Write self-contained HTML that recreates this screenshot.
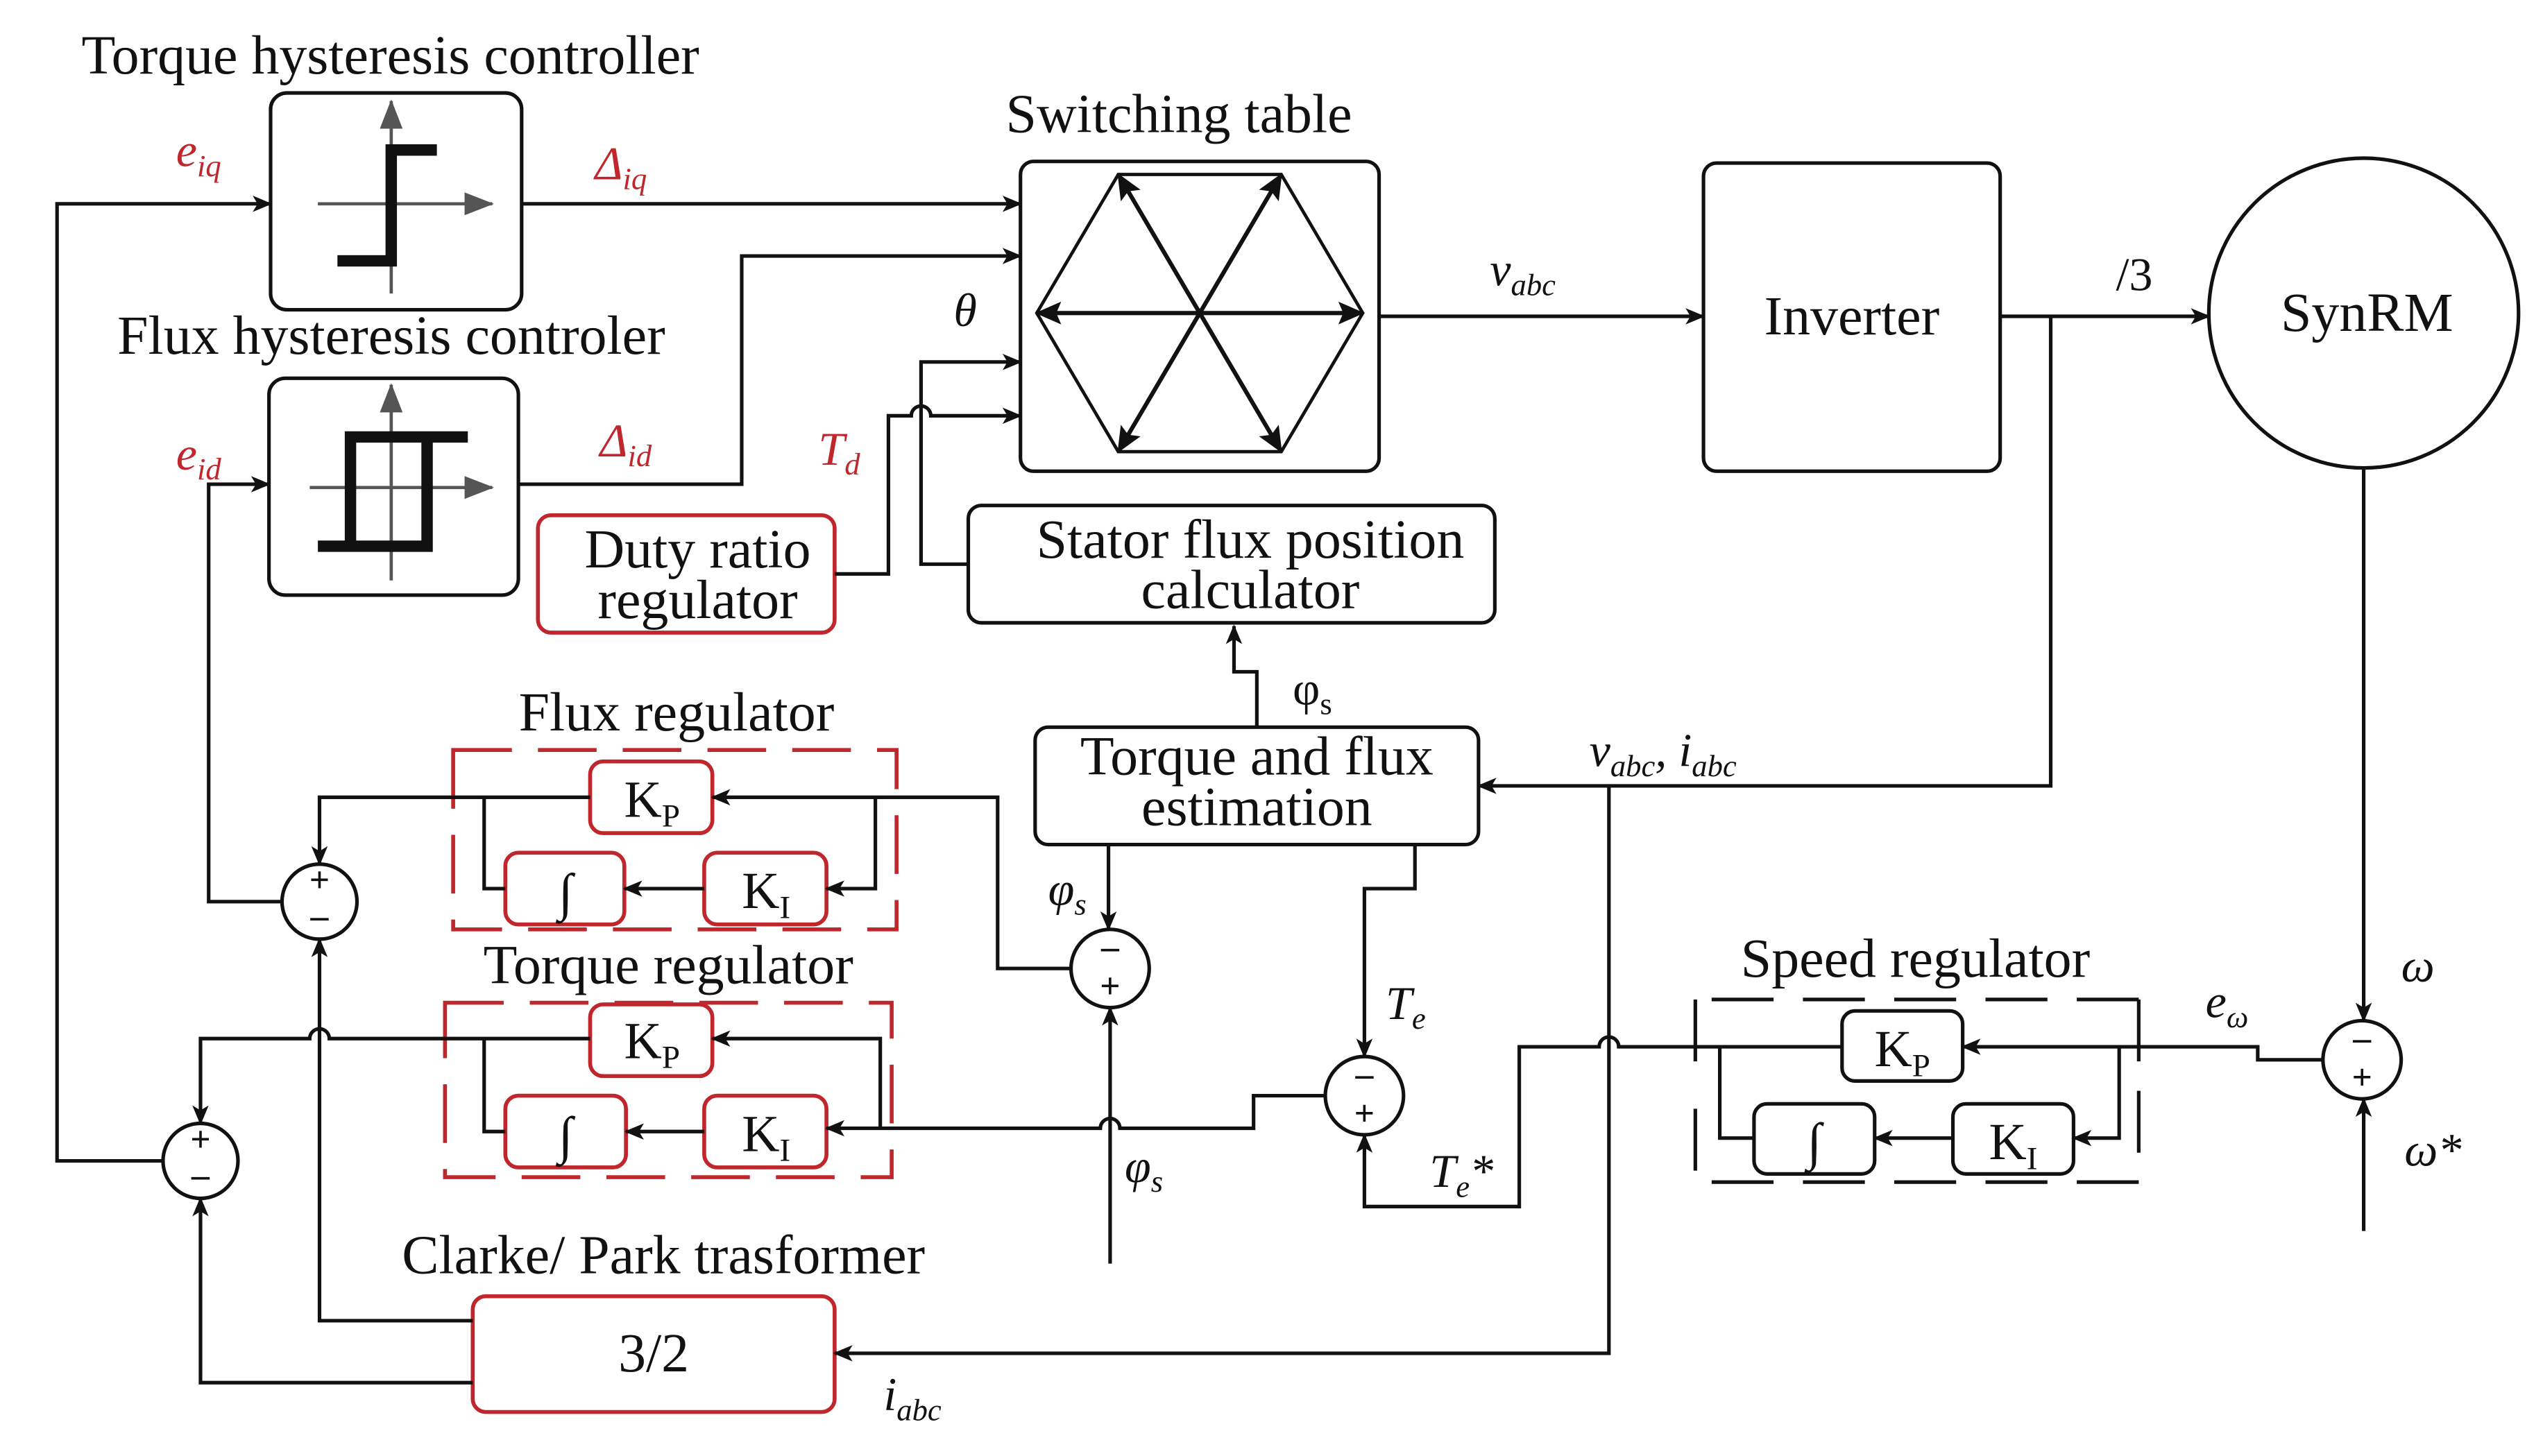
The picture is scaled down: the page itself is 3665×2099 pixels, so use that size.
<!DOCTYPE html>
<html><head><meta charset="utf-8"><style>
html,body{margin:0;padding:0;background:#fff;}
svg{display:block;}
text{font-family:"Liberation Serif",serif;fill:#111;}
.r{fill:#c0272d;}
</style></head><body>
<svg width="3665" height="2099" viewBox="0 0 1560 893" preserveAspectRatio="none" xmlns="http://www.w3.org/2000/svg">
<defs>
<marker id="a" markerWidth="12" markerHeight="10" refX="11" refY="5" orient="auto" markerUnits="userSpaceOnUse"><path d="M0,0 L12,5 L0,10 L3,5 z" fill="#111"/></marker>
<marker id="g" markerWidth="18" markerHeight="14" refX="17" refY="7" orient="auto" markerUnits="userSpaceOnUse"><path d="M0,0 L18,7 L0,14 z" fill="#555"/></marker>
<marker id="h" markerWidth="16" markerHeight="14" refX="15" refY="7" orient="auto" markerUnits="userSpaceOnUse"><path d="M0,0 L16,7 L0,14 L3,7 z" fill="#111"/></marker>
</defs>
<g fill="none" stroke="#111" stroke-width="2.2">
<rect x="166" y="57" width="154" height="133" rx="10"/>
<rect x="165" y="232" width="153" height="133" rx="10"/>
<rect x="626" y="99" width="220" height="190" rx="8"/>
<rect x="1045" y="100" width="182" height="189" rx="8"/>
<circle cx="1450" cy="192" r="95"/>
<rect x="594" y="310" width="323" height="72" rx="8"/>
<rect x="635" y="446" width="272" height="72" rx="8"/>
<circle cx="196" cy="553" r="23"/>
<circle cx="123" cy="712" r="23"/>
<circle cx="681" cy="594" r="24"/>
<circle cx="837" cy="672" r="24"/>
<circle cx="1449" cy="650" r="24"/>
<rect x="1130" y="620" width="74" height="43" rx="8"/>
<rect x="1076" y="677" width="74" height="43" rx="8"/>
<rect x="1198" y="677" width="74" height="43" rx="8"/>
<path d="M1050,613 H1312 M1040,613 V660 M1040,680 V720 M1050,725 H1312 M1312,613 V725" stroke-dasharray="38,18"/>
</g>
<g fill="none" stroke="#c0272d" stroke-width="2.4">
<rect x="330" y="316" width="182" height="72" rx="8"/>
<rect x="290" y="795" width="222" height="71" rx="8"/>
<rect x="362" y="467" width="75" height="44" rx="8"/>
<rect x="310" y="523" width="73" height="44" rx="8"/>
<rect x="432" y="523" width="75" height="44" rx="8"/>
<rect x="362" y="616" width="75" height="44" rx="8"/>
<rect x="310" y="672" width="74" height="44" rx="8"/>
<rect x="432" y="672" width="75" height="44" rx="8"/>
<path d="M278,460 H550 V570 H278 Z" stroke-dasharray="36,16"/>
<path d="M273,615 H547 V722 H273 Z" stroke-dasharray="36,16"/>
</g>
<g fill="none">
<line x1="240" y1="180" x2="240" y2="62" stroke="#555" stroke-width="2" marker-end="url(#g)"/>
<line x1="195" y1="125" x2="302" y2="125" stroke="#555" stroke-width="2" marker-end="url(#g)"/>
<path d="M207,160 H240 V92 H268" stroke="#111" stroke-width="7"/>
<line x1="240" y1="356" x2="240" y2="236" stroke="#555" stroke-width="2" marker-end="url(#g)"/>
<line x1="190" y1="299" x2="302" y2="299" stroke="#555" stroke-width="2" marker-end="url(#g)"/>
<path d="M287,268 H215 V335 M195,335 H262 V268" stroke="#111" stroke-width="7"/>
</g>
<g fill="none" stroke="#111" stroke-width="2">
<path d="M636,192 L686,107 L786,107 L836,192 L786,277 L686,277 Z"/>
</g>
<g stroke="#111" stroke-width="2.6" fill="none">
<line x1="736" y1="192" x2="636" y2="192" marker-end="url(#h)"/>
<line x1="736" y1="192" x2="836" y2="192" marker-end="url(#h)"/>
<line x1="736" y1="192" x2="686" y2="107" marker-end="url(#h)"/>
<line x1="736" y1="192" x2="786" y2="107" marker-end="url(#h)"/>
<line x1="736" y1="192" x2="686" y2="277" marker-end="url(#h)"/>
<line x1="736" y1="192" x2="786" y2="277" marker-end="url(#h)"/>
</g>
<g fill="none" stroke="#111" stroke-width="2.2">
<path d="M100,712 H35 V125 H166" marker-end="url(#a)"/>
<path d="M320,125 H626" marker-end="url(#a)"/>
<path d="M318,297 H455 V157 H626" marker-end="url(#a)"/>
<path d="M594,346 H565 V222 H626" marker-end="url(#a)"/>
<path d="M512,352 H545 V255 H559 A6,6 0 0 1 571,255 H626" marker-end="url(#a)"/>
<path d="M846,194 H1045" marker-end="url(#a)"/>
<path d="M1227,194 H1355" marker-end="url(#a)"/>
<path d="M1258,194 V482 H907" marker-end="url(#a)"/>
<path d="M1450,287 V626" marker-end="url(#a)"/>
<path d="M1450,755 V674" marker-end="url(#a)"/>
<path d="M1425,650 H1385 V642 H1204" marker-end="url(#a)"/>
<path d="M1130,642 H993 A6,6 0 0 0 981,642 H932 V740 H837 V696" marker-end="url(#a)"/>
<path d="M1300,642 V698 H1272" marker-end="url(#a)"/>
<path d="M1198,698 H1150" marker-end="url(#a)"/>
<path d="M1076,698 H1055 V642"/>
<path d="M987,482 V830 H512" marker-end="url(#a)"/>
<path d="M680,518 V570" marker-end="url(#a)"/>
<path d="M868,518 V545 H837 V648" marker-end="url(#a)"/>
<path d="M771,446 V412 H757 V384" marker-end="url(#a)"/>
<path d="M681,775 V618" marker-end="url(#a)"/>
<path d="M657,594 H612 V489 H437" marker-end="url(#a)"/>
<path d="M362,489 H196 V530" marker-end="url(#a)"/>
<path d="M537,489 V545 H507" marker-end="url(#a)"/>
<path d="M432,545 H383" marker-end="url(#a)"/>
<path d="M310,545 H297 V489"/>
<path d="M173,553 H128 V297 H165" marker-end="url(#a)"/>
<path d="M290,810 H196 V576" marker-end="url(#a)"/>
<path d="M813,672 H769 V692 H687 A6,6 0 0 0 675,692 H507" marker-end="url(#a)"/>
<path d="M540,692 V637 H437" marker-end="url(#a)"/>
<path d="M432,694 H384" marker-end="url(#a)"/>
<path d="M310,694 H297 V637"/>
<path d="M362,637 H202 A6,6 0 0 0 190,637 H123 V689" marker-end="url(#a)"/>
<path d="M290,848 H123 V735" marker-end="url(#a)"/>
</g>
<g font-size="22" text-anchor="middle" font-weight="bold">
<text x="196" y="547">+</text><text x="196" y="569">–</text>
<text x="123" y="706">+</text><text x="123" y="728">–</text>
<text x="681" y="588">–</text><text x="681" y="612">+</text>
<text x="837" y="666">–</text><text x="837" y="690">+</text>
<text x="1449" y="644">–</text><text x="1449" y="668">+</text>
</g>
<g font-size="34">
<text x="50" y="45">Torque hysteresis controller</text>
<text x="72" y="217">Flux hysteresis controler</text>
<text x="617" y="81">Switching table</text>
<text x="1136" y="205" text-anchor="middle">Inverter</text>
<text x="1452" y="203" text-anchor="middle">SynRM</text>
<text x="767" y="342" text-anchor="middle">Stator flux position</text>
<text x="767" y="373" text-anchor="middle">calculator</text>
<text x="771" y="475" text-anchor="middle">Torque and flux</text>
<text x="771" y="506" text-anchor="middle">estimation</text>
<text x="428" y="348" text-anchor="middle">Duty ratio</text>
<text x="428" y="379" text-anchor="middle">regulator</text>
<text x="415" y="448" text-anchor="middle">Flux regulator</text>
<text x="410" y="603" text-anchor="middle">Torque regulator</text>
<text x="1175" y="599" text-anchor="middle">Speed regulator</text>
<text x="407" y="781" text-anchor="middle">Clarke/ Park trasformer</text>
<text x="401" y="841" text-anchor="middle">3/2</text>
</g>
<g font-size="32">
<text x="400" y="501" text-anchor="middle">K<tspan font-size="20" dy="6">P</tspan></text>
<text x="470" y="557" text-anchor="middle">K<tspan font-size="20" dy="6">I</tspan></text>
<text x="347" y="558" text-anchor="middle">∫</text>
<text x="400" y="649" text-anchor="middle">K<tspan font-size="20" dy="6">P</tspan></text>
<text x="470" y="706" text-anchor="middle">K<tspan font-size="20" dy="6">I</tspan></text>
<text x="347" y="707" text-anchor="middle">∫</text>
<text x="1167" y="654" text-anchor="middle">K<tspan font-size="20" dy="6">P</tspan></text>
<text x="1235" y="711" text-anchor="middle">K<tspan font-size="20" dy="6">I</tspan></text>
<text x="1113" y="711" text-anchor="middle">∫</text>
</g>
<g font-size="29" font-style="italic">
<text class="r" x="108" y="102">e<tspan font-size="19" dy="6">iq</tspan></text>
<text class="r" x="108" y="288">e<tspan font-size="19" dy="6">id</tspan></text>
<text class="r" x="365" y="110">Δ<tspan font-size="19" dy="6">iq</tspan></text>
<text class="r" x="368" y="280">Δ<tspan font-size="19" dy="6">id</tspan></text>
<text class="r" x="502" y="285">T<tspan font-size="19" dy="6">d</tspan></text>
<text x="585" y="200">θ</text>
<text x="914" y="175">v<tspan font-size="19" dy="6">abc</tspan></text>
<text x="1298" y="178" font-style="normal">/3</text>
<text x="975" y="470">v<tspan font-size="19" dy="6">abc</tspan><tspan dy="-6">, i</tspan><tspan font-size="19" dy="6">abc</tspan></text>
<text x="793" y="432" font-style="normal">φ<tspan font-size="19" dy="6">s</tspan></text>
<text x="643" y="555">φ<tspan font-size="19" dy="6">s</tspan></text>
<text x="690" y="725">φ<tspan font-size="19" dy="6">s</tspan></text>
<text x="850" y="625">T<tspan font-size="19" dy="6">e</tspan></text>
<text x="877" y="728">T<tspan font-size="19" dy="6">e</tspan><tspan dy="-6">*</tspan></text>
<text x="1473" y="602">ω</text>
<text x="1353" y="624">e<tspan font-size="19" dy="6">ω</tspan></text>
<text x="1475" y="715">ω*</text>
<text x="542" y="865">i<tspan font-size="19" dy="6">abc</tspan></text>
</g>
</svg>
</body></html>
